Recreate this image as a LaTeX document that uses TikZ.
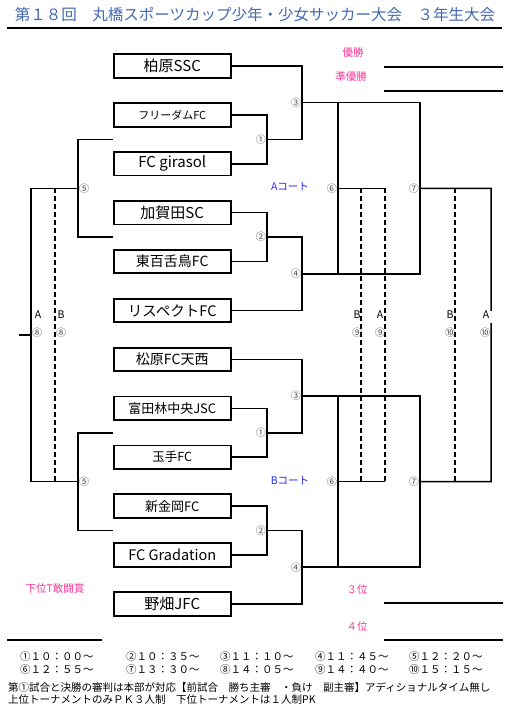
\documentclass[tikz,border=0pt]{standalone}
\usepackage{fontspec}
\setmainfont{Noto Sans CJK JP}
\usetikzlibrary{positioning, calc}
\definecolor{titleblue}{RGB}{68,104,176}
\definecolor{prizepink}{RGB}{255,51,153}
\definecolor{courtblue}{RGB}{40,40,255}
\definecolor{numgray}{RGB}{70,70,70}
\tikzset{node distance=23.6pt,
	team/.style={draw, line width=1.8pt, minimum width=116.7pt, minimum height=23.5pt, inner sep=0pt, font=\fontsize{15}{17}\selectfont},
	line/.style={line width=1.5pt},
	dashline/.style={line width=1.5pt, dash pattern=on 5pt off 3pt},
	num/.style={font=\fontsize{10}{11}\selectfont, text=numgray, inner sep=1pt},
	side/.style={font=\fontsize{10.5}{12}\selectfont, inner sep=0pt},
	prize/.style={font=\fontsize{10.5}{12}\selectfont, text=prizepink, inner sep=0pt},
	court/.style={font=\fontsize{10.5}{12}\selectfont, text=courtblue, inner sep=0pt},
	note/.style={font=\fontsize{10.5}{12}\selectfont, inner sep=0pt, anchor=west}}

\begin{document}
\begin{tikzpicture}[x=1pt, y=-1pt]
    \useasboundingbox (0,0) rectangle (515,710);
    % title
    \node[font=\fontsize{15.5}{18}\selectfont, text=titleblue] (title) at (255,15) {第１８回　丸橋スポーツカップ少年・少女サッカー大会　３年生大会};
    \draw[line width=2pt] (7,28) -- (502,28);

    % A court
    \node[team] (t1) at (172.25,66) {柏原SSC};
    \node[team, below=of t1, font=\fontsize{11}{13}\selectfont] (t2) {フリーダムFC};
    \node[team, below=of t2] (t3) {FC girasol};
    \node[team, below=of t3] (t4) {加賀田SC};
    \node[team, below=of t4, font=\fontsize{14}{16}\selectfont] (t5) {東百舌鳥FC};
    \node[team, below=of t5, font=\fontsize{14.5}{16}\selectfont] (t6) {リスペクトFC};
    % B court
    \node[team, below=of t6, font=\fontsize{14}{16}\selectfont] (t7) {松原FC天西};
    \node[team, below=of t7, font=\fontsize{13}{15}\selectfont] (t8) {富田林中央JSC};
    \node[team, below=of t8, font=\fontsize{12.5}{14}\selectfont] (t9) {玉手FC};
    \node[team, below=of t9, font=\fontsize{13}{15}\selectfont] (t10) {新金岡FC};
    \node[team, below=of t10, font=\fontsize{14.5}{16}\selectfont] (t11) {FC Gradation};
    \node[team, below=of t11] (t12) {野畑JFC};

    % match points
    \coordinate (m1A) at ($(t2.east)!.5!(t3.east)+(35.5,0)$);
    \coordinate (m3A) at ($(t1.east -| m1A)!.5!(m1A)+(35,0)$);
    \coordinate (m2A) at ($(t4.east)!.5!(t5.east)+(35.5,0)$);
    \coordinate (m4A) at ($(t6.east -| m2A)!.5!(m2A)+(35,0)$);
    \coordinate (m6A) at ($(m3A)!.5!(m4A)+(36,0)$);
    \coordinate (m7A) at ($(m6A)+(82,0)$);
    \coordinate (m5A) at ($(t2.west |- m1A)!.5!(t2.west |- m2A)+(-35,0)$);
    \coordinate (m1B) at ($(t8.east)!.5!(t9.east)+(35.5,0)$);
    \coordinate (m3B) at ($(t7.east -| m1B)!.5!(m1B)+(35,0)$);
    \coordinate (m2B) at ($(t10.east)!.5!(t11.east)+(35.5,0)$);
    \coordinate (m4B) at ($(t12.east -| m2B)!.5!(m2B)+(35,0)$);
    \coordinate (m6B) at ($(m3B)!.5!(m4B)+(36,0)$);
    \coordinate (m7B) at ($(m6B)+(82,0)$);
    \coordinate (m5B) at ($(t8.west |- m1B)!.5!(t8.west |- m2B)+(-35,0)$);
    \coordinate (m8) at ($(m5A)!.5!(m5B)+(-47,0)$);
    \coordinate (w8) at ($(m8)+(-12,0)$);
    \coordinate (d8t) at ($(m5A)+(-23,0)$);
    \coordinate (d8b) at ($(m5B)+(-23,0)$);
    \coordinate (d9Bt) at ($(m6A)+(23,0)$);
    \coordinate (d9Bb) at ($(m6B)+(23,0)$);
    \coordinate (d9At) at ($(m6A)+(47,0)$);
    \coordinate (d9Ab) at ($(m6B)+(47,0)$);
    \coordinate (d10Bt) at ($(m7A)+(35,0)$);
    \coordinate (d10Bb) at ($(m7B)+(35,0)$);
    \coordinate (s10t) at ($(m7A)+(71,0)$);
    \coordinate (s10b) at ($(m7B)+(71,0)$);
    \coordinate (g10t) at ($(s10t)!.418!(s10b)$);
    \coordinate (g10b) at ($(s10t)!.459!(s10b)$);

    % brackets
    \draw[line] (t2.east) -| (m1A) |- (t3.east);
    \draw[line] (t1.east) -| (m3A) |- (m1A);
    \draw[line] (t4.east) -| (m2A) |- (t5.east);
    \draw[line] (t6.east) -| (m4A) |- (m2A);
    \draw[line] (m3A) -| (m7A) |- (m4A);
    \draw[line] (m6A |- m3A) -- (m6A |- m4A);
    \draw[line] (t2.west |- m1A) -| (m5A) |- (t2.west |- m2A);
    \draw[line] (t8.east) -| (m1B) |- (t9.east);
    \draw[line] (t7.east) -| (m3B) |- (m1B);
    \draw[line] (t10.east) -| (m2B) |- (t11.east);
    \draw[line] (t12.east) -| (m4B) |- (m2B);
    \draw[line] (m3B) -| (m7B) |- (m4B);
    \draw[line] (m6B |- m3B) -- (m6B |- m4B);
    \draw[line] (t8.west |- m1B) -| (m5B) |- (t8.west |- m2B);
    % placing matches
    \draw[line] (m5A) -| (m8) |- (m5B);
    \draw[line] (m8) -- (w8);
    \draw[dashline] (d8t) -- (d8b);
    \draw[line] (m6A) -- (d9At);
    \draw[line] (m6B) -- (d9Ab);
    \draw[dashline] (d9Bt) -- (d9Bb);
    \draw[dashline] (d9At) -- (d9Ab);
    \draw[line] (m7A) -- (s10t) -- (g10t);
    \draw[line] (g10b) -- (s10b) -- (m7B);
    \draw[dashline] (d10Bt) -- (d10Bb);

    % match numbers
    \node[num, left] (n1A) at (m1A) {①};
    \node[num, left] (n2A) at (m2A) {②};
    \node[num, left] (n3A) at (m3A) {③};
    \node[num, left] (n4A) at (m4A) {④};
    \node[num, right] (n5A) at (m5A) {⑤};
    \node[num, left] (n6A) at (m6A) {⑥};
    \node[num, left] (n7A) at (m7A) {⑦};
    \node[num, left] (n1B) at (m1B) {①};
    \node[num, left] (n2B) at (m2B) {②};
    \node[num, left] (n3B) at (m3B) {③};
    \node[num, left] (n4B) at (m4B) {④};
    \node[num, right] (n5B) at (m5B) {⑤};
    \node[num, left] (n6B) at (m6B) {⑥};
    \node[num, left] (n7B) at (m7B) {⑦};
    \node[side] (a8) at (38,315) {A};
    \node[num] (n8A) at (37,333) {⑧};
    \node[side] (b8) at (61,315) {B};
    \node[num] (n8B) at (61,333) {⑧};
    \node[side] (b9) at (357,315) {B};
    \node[num] (n9B) at (357,333) {⑨};
    \node[side] (a9) at (380,315) {A};
    \node[num] (n9A) at (380,333) {⑨};
    \node[side] (b10) at (450,315) {B};
    \node[num] (n10B) at (450,333) {⑩};
    \node[side] (a10) at (486,315) {A};
    \node[num] (n10A) at (485,333) {⑩};

    % courts
    \node[court] (courtA) at (290,187) {Aコート};
    \node[court] (courtB) at (290,481) {Bコート};

    % results
    \node[prize] (win) at (353,53) {優勝};
    \node[prize] (second) at (351,77) {準優勝};
    \node[prize] (third) at (357,590) {３位};
    \node[prize] (fourth) at (357,627) {４位};
    \node[prize] (fight) at (55,589) {下位T敢闘賞};
    \draw[line] (384,67) -- (503,67);
    \draw[line] (384,91) -- (503,91);
    \draw[line] (384,603) -- (503,603);
    \draw[line] (384,640) -- (503,640);
    \draw[line] (7,640) -- (102,640);

    % times
    \foreach \x/\t in {20/①１０：００～, 126/②１０：３５～, 220/③１１：１０～, 315/④１１：４５～, 409/⑤１２：２０～}
        \node[note] (ta\x) at (\x,657) {\t};
    \foreach \x/\t in {20/⑥１２：５５～, 126/⑦１３：３０～, 220/⑧１４：０５～, 315/⑨１４：４０～, 409/⑩１５：１５～}
        \node[note] (tb\x) at (\x,670) {\t};
    \node[note] (rule1) at (8,687) {第①試合と決勝の審判は本部が対応【前試合　勝ち主審　・負け　副主審】アディショナルタイム無し};
    \node[note] (rule2) at (8,700) {上位トーナメントのみＰＫ３人制　下位トーナメントは１人制PK};
\end{tikzpicture}
\end{document}
